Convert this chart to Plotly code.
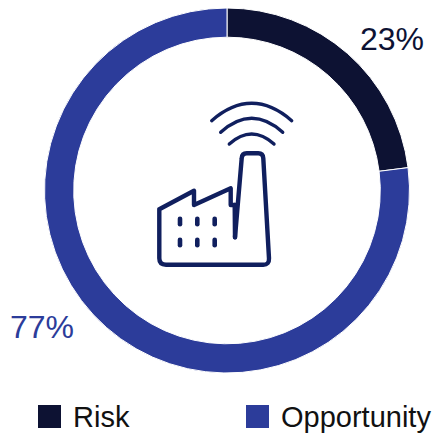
import plotly.graph_objects as go

categories = ["Risk", "Opportunity"]
shares = [23, 77]
colors = ["#0d1233", "#2c3c9a"]
icon_color = "#101f5e"
W, H = 432, 434


def pt(x, y):
    """Icon artwork is sketched on a 3x grid; convert to canvas pixels."""
    return f"{x / 3 + 140:.1f},{y / 3 + 90:.1f}"


def icon_line(color, width, path):
    return dict(type="path", xref="x", yref="y", path=path,
                line=dict(color=color, width=width), layer="above")


factory = (
    f"M{pt(58, 358)} L{pt(162, 302)} L{pt(162, 345)} L{pt(272, 295)} L{pt(272, 345)} L{pt(292, 345)} "
    f"M{pt(285, 442)} L{pt(305, 205)} Q{pt(306, 190)} {pt(320, 190)} L{pt(355, 190)} "
    f"Q{pt(369, 190)} {pt(370, 205)} L{pt(387, 505)} Q{pt(388, 524)} {pt(370, 524)} "
    f"L{pt(78, 524)} Q{pt(58, 524)} {pt(58, 505)} L{pt(58, 358)}"
)
inner_wall = f"M{pt(284, 345)} L{pt(285, 442)}"
arcs = [
    f"M{pt(215, 92)} Q{pt(335, -12)} {pt(455, 92)}",
    f"M{pt(242, 127)} Q{pt(335, 43)} {pt(428, 127)}",
    f"M{pt(268, 162)} Q{pt(335, 102)} {pt(402, 162)}",
]
windows = [
    f"M{pt(x, y0)} L{pt(x, y1)}"
    for x in (120, 172, 224)
    for y0, y1 in ((386, 403), (449, 466))
]

shapes = [icon_line(icon_color, 4.4, factory), icon_line(icon_color, 4.4, inner_wall)]
shapes += [icon_line(icon_color, 3.4, p) for p in arcs]
shapes += [icon_line(icon_color, 4.6, p) for p in windows]

# Legend swatches and labels along the bottom edge
legend_x = [38, 246]
annotations = []
for name, color, x in zip(categories, colors, legend_x):
    shapes.append(dict(type="rect", xref="x", yref="y", x0=x, x1=x + 23, y0=405, y1=428,
                       fillcolor=color, line=dict(width=0)))
    annotations.append(dict(x=x + 33, y=417, xref="x", yref="y", text=name, showarrow=False,
                            xanchor="left", yanchor="middle",
                            font=dict(family="Liberation Sans", size=29, color="#111111")))

# Share labels beside the ring
for value, color, x, y in zip(shares, colors, (392, 41.5), (39, 327)):
    annotations.append(dict(x=x, y=y, xref="x", yref="y", text=f"{value}%", showarrow=False,
                            xanchor="center", yanchor="middle",
                            font=dict(family="Liberation Sans", size=32, color=color)))

fig = go.Figure(go.Pie(
    labels=categories,
    values=shares,
    hole=0.84,
    sort=False,
    direction="clockwise",
    rotation=0,
    marker=dict(colors=colors, line=dict(width=1, color="white")),
    textinfo="none",
    showlegend=False,
    domain=dict(x=[44.5 / W, 409.5 / W], y=[1 - 373 / H, 1 - 8 / H]),
))

fig.update_layout(
    width=W, height=H,
    margin=dict(l=0, r=0, t=0, b=0),
    paper_bgcolor="white", plot_bgcolor="rgba(0,0,0,0)",
    xaxis=dict(range=[0, W], visible=False, fixedrange=True),
    yaxis=dict(range=[H, 0], visible=False, fixedrange=True),
    shapes=shapes,
    annotations=annotations,
)

# Rounded stroke ends for the icon lines
round_caps = ("document.querySelectorAll('.shapelayer path').forEach(function(p){"
              "p.style.strokeLinecap='round';p.style.strokeLinejoin='round';});")
fig.write_html("out.html", post_script=round_caps, config=dict(displayModeBar=False))
